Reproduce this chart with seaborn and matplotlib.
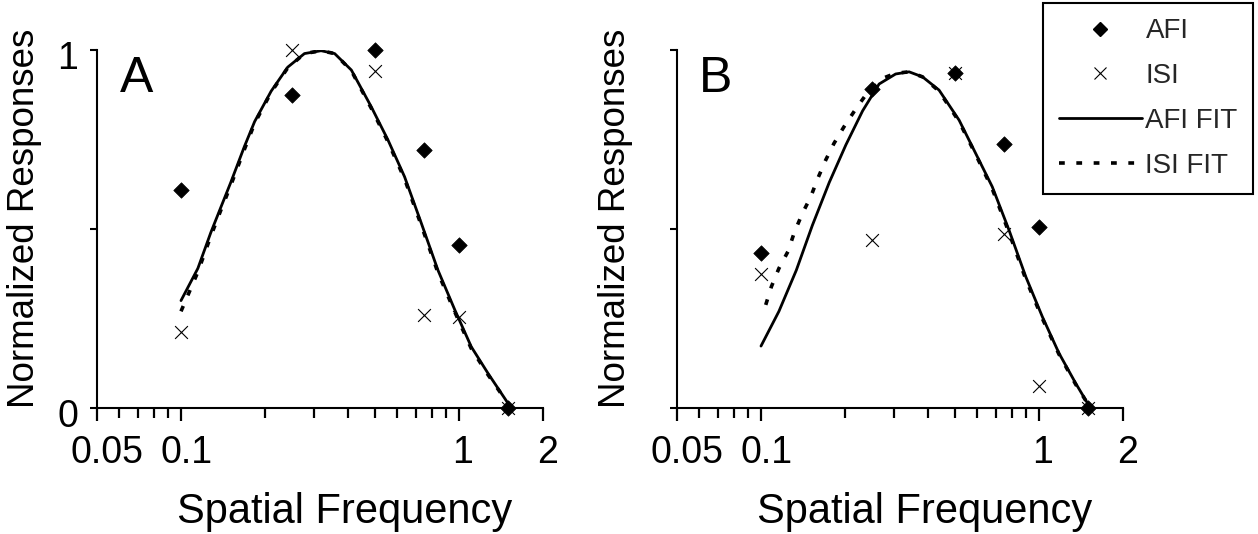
import matplotlib
matplotlib.use("Agg")
import matplotlib.pyplot as plt
import matplotlib.transforms as mtransforms
from matplotlib.lines import Line2D
from matplotlib.ticker import FixedLocator, NullFormatter
import seaborn as sns

# spatial frequencies of the measured points
freq = [0.1, 0.25, 0.5, 0.75, 1.0, 1.5]

# panel A responses
a_afi = [0.61, 0.874, 1.0, 0.72, 0.455, 0.0]
a_isi = [0.213, 1.0, 0.94, 0.26, 0.255, 0.0]

# panel B responses
b_afi = [0.434, 0.89, 0.937, 0.737, 0.506, 0.0]
b_isi = [0.374, 0.469, 0.937, 0.486, 0.061, 0.0]

# fitted curves
a_fit_x = [0.1, 0.115, 0.128, 0.139, 0.151, 0.169, 0.184, 0.211, 0.242, 0.278, 0.319,
           0.357, 0.41, 0.483, 0.555, 0.637, 0.732, 0.84, 0.966, 1.107, 1.271, 1.54]
a_afi_fit = [0.30, 0.39, 0.49, 0.56, 0.63, 0.73, 0.80, 0.885, 0.952, 0.99, 0.998,
             0.99, 0.944, 0.842, 0.749, 0.646, 0.516, 0.385, 0.274, 0.171, 0.097, 0.0]
a_isi_fit = [0.27, 0.38, 0.48, 0.552, 0.622, 0.722, 0.795, 0.882, 0.95, 0.99, 0.998,
             0.99, 0.942, 0.838, 0.744, 0.64, 0.51, 0.378, 0.268, 0.166, 0.093, 0.0]

b_afi_fit_x = [0.1, 0.116, 0.134, 0.153, 0.176, 0.202, 0.232, 0.266, 0.305, 0.341, 0.381,
               0.437, 0.516, 0.592, 0.679, 0.78, 0.896, 1.028, 1.18, 1.355, 1.53]
b_afi_fit = [0.173, 0.27, 0.385, 0.51, 0.63, 0.735, 0.83, 0.905, 0.933, 0.939, 0.925,
             0.888, 0.804, 0.711, 0.618, 0.497, 0.367, 0.255, 0.153, 0.069, 0.0]
b_isi_fit_x = [0.104, 0.109, 0.116, 0.125, 0.132, 0.141, 0.151, 0.16, 0.171, 0.183, 0.199,
               0.22, 0.238, 0.274, 0.305, 0.341, 0.381, 0.437, 0.516, 0.592, 0.679, 0.78,
               0.896, 1.028, 1.18, 1.355, 1.53]
b_isi_fit = [0.288, 0.339, 0.39, 0.437, 0.492, 0.544, 0.59, 0.641, 0.693, 0.739, 0.786,
             0.837, 0.874, 0.921, 0.935, 0.939, 0.925, 0.885, 0.8, 0.708, 0.612, 0.49,
             0.36, 0.25, 0.15, 0.066, 0.0]

x_major = [0.05, 0.1, 1, 2]
x_major_labels = ["0.05", "0.1", "1", "2"]
x_minor = [0.06, 0.07, 0.08, 0.09, 0.2, 0.3, 0.4, 0.5, 0.6, 0.7, 0.8, 0.9]
label_shift_px = [10, 6, 4, 5]

sns.set_style("white")
plt.rcParams["font.family"] = ["Liberation Sans", "DejaVu Sans"]

fig = plt.figure(figsize=(12.58, 5.34), dpi=100)
axA = fig.add_axes([97.3 / 1258, 1 - 408 / 534, 445.4 / 1258, 358 / 534])
axB = fig.add_axes([677.3 / 1258, 1 - 408 / 534, 445.4 / 1258, 358 / 534])

dotted = (0, (1.6, 3.2))
panels = [
    (axA, "A", a_afi, a_isi, a_fit_x, a_afi_fit, a_fit_x, a_isi_fit, True, -0.124, 0.051),
    (axB, "B", b_afi, b_isi, b_afi_fit_x, b_afi_fit, b_isi_fit_x, b_isi_fit, False, -0.0995, 0.049),
]

for ax, letter, afi, isi, fx1, fy1, fx2, fy2, ylabels, ylab_x, let_x in panels:
    ax.set_xscale("log")
    sns.lineplot(x=fx2, y=fy2, ax=ax, color="black", lw=2.6, linestyle=dotted,
                 sort=False, estimator=None)
    sns.lineplot(x=fx1, y=fy1, ax=ax, color="black", lw=2.0, sort=False, estimator=None)
    sns.scatterplot(x=freq, y=afi, ax=ax, marker="D", s=62, color="black",
                    edgecolor="black", linewidth=0.5, clip_on=False, zorder=4)
    sns.scatterplot(x=freq, y=isi, ax=ax, marker="x", s=85, color="black",
                    linewidth=0.8, clip_on=False, zorder=4)

    ax.set_xlim(0.05, 2)
    ax.set_ylim(0, 1)
    ax.xaxis.set_major_locator(FixedLocator(x_major))
    ax.xaxis.set_minor_locator(FixedLocator(x_minor))
    ax.xaxis.set_minor_formatter(NullFormatter())
    ax.set_xticks(x_major, x_major_labels)
    ax.set_yticks([0, 0.5, 1])
    if ylabels:
        ax.set_yticklabels(["0", "", "1"])
    else:
        ax.set_yticklabels(["", "", ""])

    for side in ["top", "right"]:
        ax.spines[side].set_visible(False)
    for side in ["left", "bottom"]:
        ax.spines[side].set_linewidth(1.5)
        ax.spines[side].set_color("black")

    ax.tick_params(axis="x", which="major", direction="out", length=9.4, width=1.6,
                   labelsize=27, pad=10, bottom=True, colors="black")
    ax.tick_params(axis="x", which="minor", direction="out", length=7, width=1.6,
                   bottom=True, colors="black")
    ax.tick_params(axis="y", which="major", direction="out", length=4.8, width=1.5,
                   labelsize=27, pad=9, left=True, colors="black")

    # labels sit a little right of their ticks in the original
    for lab, dx in zip(ax.get_xticklabels(), label_shift_px):
        off = mtransforms.ScaledTranslation(dx / 100, 0, fig.dpi_scale_trans)
        lab.set_transform(lab.get_transform() + off)
    for lab in ax.get_yticklabels():
        off = mtransforms.ScaledTranslation(0, -5 / 100, fig.dpi_scale_trans)
        lab.set_transform(lab.get_transform() + off)

    ax.set_xlabel("Spatial Frequency", fontsize=30, color="black")
    ax.xaxis.set_label_coords(0.556, -0.235)
    ax.set_ylabel("Normalized Responses", fontsize=26.5, color="black")
    ax.yaxis.set_label_coords(ylab_x, 0.53)

    ax.text(let_x, 0.883, letter, transform=ax.transAxes, fontsize=36,
            va="baseline", ha="left", color="black")
    ax.patch.set_alpha(0)

handles = [
    Line2D([], [], marker="D", color="black", linestyle="none", markersize=7.2),
    Line2D([], [], marker="x", color="black", linestyle="none", markersize=8.5,
           markeredgewidth=0.8),
    Line2D([], [], color="black", lw=2.0),
    Line2D([], [], color="black", lw=2.6, linestyle=dotted),
]
leg = fig.legend(handles, ["AFI", "ISI", "AFI FIT", "ISI FIT"], loc="upper right",
                 bbox_to_anchor=(0.996, 0.9944), fontsize=20, frameon=True,
                 fancybox=False, framealpha=1, edgecolor="black", borderpad=0.55,
                 handlelength=3.0, handletextpad=0.12, labelspacing=0.68,
                 borderaxespad=0)
leg.get_frame().set_linewidth(1.5)

fig.savefig("out.png", dpi=100, facecolor="white")
